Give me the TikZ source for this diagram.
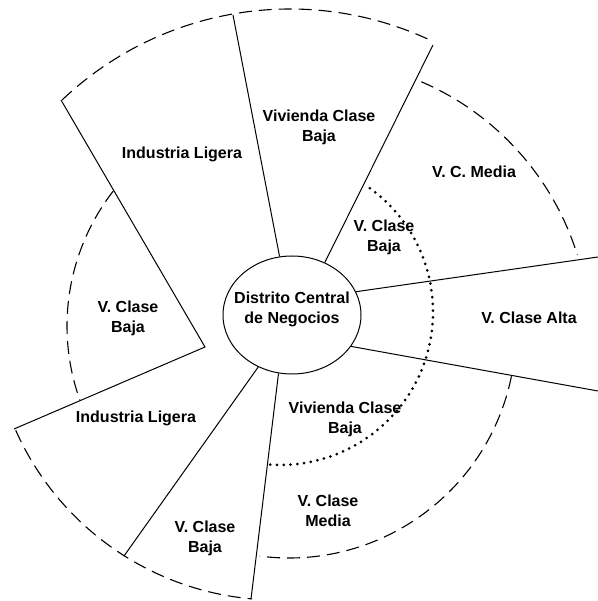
\documentclass[tikz,border=0pt]{standalone}
\usepackage{fontspec}
\setmainfont{Liberation Sans}
\usetikzlibrary{shapes.geometric}

\begin{document}
\begin{tikzpicture}[x=0.5pt,y=0.5pt,
    zona/.style={font=\bfseries\fontsize{8}{10}\selectfont,align=center,inner sep=0pt},
    borde/.style={line width=0.5pt},
    anillo/.style={line width=0.55pt,dash pattern=on 6.5pt off 3.5pt},
    puntos/.style={line width=1.5pt,dash pattern=on 0pt off 3.4pt,line cap=round}]
    \tikzstyle{centro}=[ellipse,draw,line width=0.5pt,minimum width=69pt,minimum height=59pt,inner sep=0pt]
    \useasboundingbox (0,0) rectangle (598,601);

    \node[centro] (cdn) at (292,286) {};
    \node[zona] (cdntxt) at (292,292) {Distrito Central\\de Negocios};

    \coordinate (n1) at (233,586);
    \coordinate (n2) at (433,556);
    \coordinate (e1) at (598,344);
    \coordinate (e2) at (598,210);
    \coordinate (s1) at (251,2);
    \coordinate (s2) at (124,45);
    \coordinate (w1) at (61,501);
    \coordinate (w2) at (205,254);
    \coordinate (w3) at (14,172);

    \draw[borde] (cdn.102) -- (n1);
    \draw[borde] (cdn.58) -- (n2);
    \draw[borde] (cdn.20) -- (e1);
    \draw[borde] (cdn.-28) -- (e2);
    \draw[borde] (cdn.257) -- (s1);
    \draw[borde] (cdn.237) -- (s2);
    \draw[borde] (w1) -- (w2) -- (w3);

    \coordinate (oA) at (290,261);
    \coordinate (oB) at (311,263);
    \coordinate (oC) at (289,270);
    \coordinate (oD) at (277,287);
    \coordinate (oE) at (287,275);
    \coordinate (oF) at (280,289);

    \draw[anillo] (oA) ++(133.5:331) arc[start angle=133.5,end angle=65,radius=331];
    \draw[anillo] (oB) ++(66.7:279) arc[start angle=66.7,end angle=17.3,radius=279];
    \draw[anillo] (oC) ++(-11.5:227) arc[start angle=-11.5,end angle=-97.4,radius=227];
    \draw[anillo] (oD) ++(204:286) arc[start angle=204,end angle=265,radius=286];
    \draw[anillo] (oE) ++(142.2:220) arc[start angle=142.2,end angle=199.7,radius=220];
    \draw[puntos] (oF) ++(54:153) arc[start angle=54,end angle=-94.5,radius=153];

    \node[zona] (il1) at (182,447) {Industria Ligera};
    \node[zona] (vcb1) at (319,474) {Vivienda Clase\\Baja};
    \node[zona] (vcm1) at (474,429) {V. C. Media};
    \node[zona] (vb1) at (384,364) {V. Clase\\Baja};
    \node[zona] (vca) at (529,283) {V. Clase Alta};
    \node[zona] (vb2) at (128,283) {V. Clase\\Baja};
    \node[zona] (il2) at (136,183) {Industria Ligera};
    \node[zona] (vcb2) at (345,182) {Vivienda Clase\\Baja};
    \node[zona] (vcm2) at (328,90) {V. Clase\\Media};
    \node[zona] (vb3) at (205,63) {V. Clase\\Baja};

\end{tikzpicture}
\end{document}
